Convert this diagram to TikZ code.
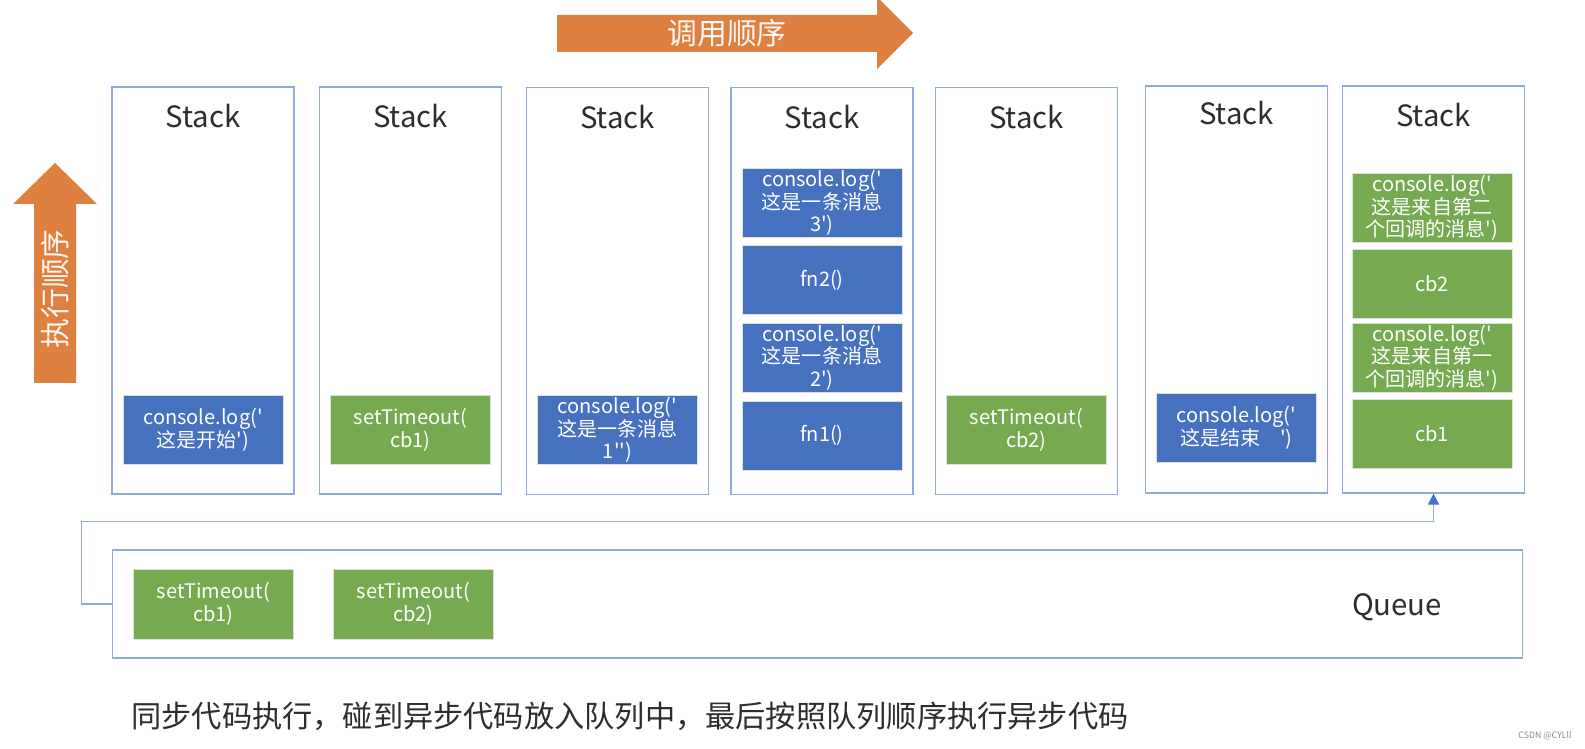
\documentclass[tikz,border=0pt]{standalone}
\usepackage{fontspec}
\newfontfamily\cjk{Noto Sans CJK SC}
\usetikzlibrary{arrows.meta}
\usetikzlibrary{calc}
\usetikzlibrary{positioning}
\definecolor{frameblue}{RGB}{143,170,220}
\definecolor{tipblue}{RGB}{68,114,196}
\definecolor{syncblue}{RGB}{70,113,190}
\definecolor{asyncgreen}{RGB}{118,170,80}
\definecolor{orderorange}{RGB}{222,128,64}
\definecolor{labelgray}{RGB}{45,45,45}
\tikzset{
  stackbox/.style={draw=frameblue,line width=0.7pt,minimum width=3.64cm,minimum height=8.14cm,inner sep=0pt},
  stacklbl/.style={text=labelgray,font=\cjk\fontsize{16.7}{20}\selectfont,inner sep=0pt},
  blk/.style={draw=black!12,line width=0.5pt,text=white,align=center,minimum width=3.2cm,minimum height=1.38cm,inner sep=0pt,font=\cjk\fontsize{11.4}{12.9}\selectfont},
  syncblk/.style={blk,fill=syncblue},
  asyncblk/.style={blk,fill=asyncgreen},
  orderfill/.style={fill=orderorange},
  ordertxt/.style={text=white!92!orderorange,font=\cjk\fontsize{17}{20}\selectfont,inner sep=0pt},
  flow/.style={draw=frameblue,line width=0.8pt,-{Triangle[length=2.2mm,width=2.2mm,color=tipblue]}}
}
\begin{document}
\begin{tikzpicture}[x=0.02cm,y=-0.02cm]
  \useasboundingbox[fill=white] (0,0) rectangle (1585,749);

  % order arrows
  \fill[orderfill] (557,15) -- (877,15) -- (877,-3) -- (913,33) -- (877,69) -- (877,52) -- (557,52) -- cycle;
  \node[ordertxt] (calltxt) at (727,33) {调用顺序};
  \fill[orderfill] (34,383) -- (34,204) -- (13,204) -- (55,163) -- (97,204) -- (76,204) -- (76,383) -- cycle;
  \node[ordertxt,rotate=90] (runtxt) at (55,289) {执行顺序};

  % stacks
  \node[stackbox] (s1) at (203,290.5) {};
  \node[stackbox] (s2) at (410.5,290.5) {};
  \node[stackbox] (s3) at (617.5,291) {};
  \node[stackbox] (s4) at (822,291) {};
  \node[stackbox] (s5) at (1026.5,291) {};
  \node[stackbox] (s6) at (1236.5,289.5) {};
  \node[stackbox] (s7) at (1433.5,289.5) {};
  \foreach \s in {s1,s2,s3,s4,s5,s7}
    \node[stacklbl] (\s lbl) at ([yshift=-0.6cm]\s.north) {Stack};
  \node[stacklbl] (s6lbl) at ([yshift=-0.56cm]s6.north) {Stack};

  % frames
  \node[syncblk] (start) at (203,430) {console.log('\\这是开始')};
  \node[asyncblk] (timer1) at (410.5,430) {setTimeout(\\cb1)};
  \node[syncblk] (msg1) at (617.5,430) {console.log('\\这是一条消息\\1'')};
  \node[syncblk] (msg3) at (822,203) {console.log('\\这是一条消息\\3')};
  \node[syncblk] (fn2) at (822,280) {fn2()};
  \node[syncblk] (msg2) at (822,357.5) {console.log('\\这是一条消息\\2')};
  \node[syncblk] (fn1) at (822,435.5) {fn1()};
  \node[asyncblk] (timer2) at (1026.5,430) {setTimeout(\\cb2)};
  \node[syncblk] (done) at (1236.5,428) {console.log('\\这是结束\quad')};
  \node[asyncblk] (log2) at (1432,208) {console.log('\\这是来自第二\\个回调的消息')};
  \node[asyncblk] (cb2) at (1432,284) {cb2};
  \node[asyncblk] (log1) at (1432,357.5) {console.log('\\这是来自第一\\个回调的消息')};
  \node[asyncblk] (cb1) at (1432,433.5) {cb1};

  % queue
  \node[stackbox,minimum width=28.22cm,minimum height=2.16cm] (queue) at (817.5,604) {};
  \node[asyncblk,minimum height=1.4cm] (qcb1) at (213.5,604) {setTimeout(\\cb1)};
  \node[asyncblk,minimum height=1.4cm] (qcb2) at (413.5,604) {setTimeout(\\cb2)};
  \node[stacklbl] (qlbl) at (1397,607) {Queue};

  \draw[flow] (queue.west) -- ++(-0.6cm,0) |- ([yshift=-0.56cm]s7.south) -- (s7.south);

  \node[text=labelgray,font=\cjk\fontsize{17.2}{20}\selectfont,anchor=west,inner sep=0pt] (note) at (131,716) {同步代码执行，碰到异步代码放入队列中，最后按照队列顺序执行异步代码};
  \node[text=black!45,font=\cjk\fontsize{5}{6}\selectfont,anchor=east,inner sep=0pt] (mark) at (1572,736) {CSDN @CYLll};
\end{tikzpicture}
\end{document}
